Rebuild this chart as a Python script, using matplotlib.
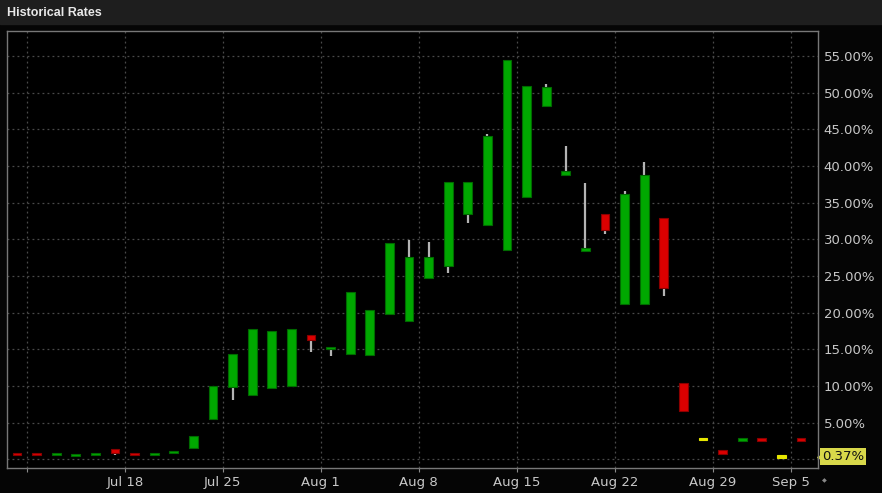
import matplotlib
matplotlib.use('Agg')
import matplotlib.pyplot as plt
import pandas as pd

# daily rate candles (percent)
dates = ['2022-07-08', '2022-07-11', '2022-07-12', '2022-07-13', '2022-07-14', '2022-07-15',
         '2022-07-18', '2022-07-19', '2022-07-20', '2022-07-21', '2022-07-22',
         '2022-07-25', '2022-07-26', '2022-07-27', '2022-07-28', '2022-07-29',
         '2022-08-01', '2022-08-02', '2022-08-03', '2022-08-04', '2022-08-05',
         '2022-08-08', '2022-08-09', '2022-08-10', '2022-08-11', '2022-08-12',
         '2022-08-15', '2022-08-16', '2022-08-17', '2022-08-18', '2022-08-19',
         '2022-08-22', '2022-08-23', '2022-08-24', '2022-08-25', '2022-08-26',
         '2022-08-29', '2022-08-30', '2022-08-31', '2022-09-01', '2022-09-06']
opens = [0.8, 0.8, 0.7, 0.55, 0.7, 1.45,
         0.8, 0.7, 0.95, 1.6, 5.5,
         9.9, 8.8, 9.7, 10.0, 17.0,
         15.05, 14.4, 14.2, 19.8, 18.9,
         24.7, 26.4, 33.4, 32.0, 28.5,
         35.8, 48.2, 38.8, 28.5, 33.4,
         21.2, 21.2, 32.9, 10.4, 2.8,
         1.3, 2.7, 2.85, 0.37, 2.75]
closes = [0.7, 0.7, 0.8, 0.65, 0.8, 0.9,
          0.7, 0.8, 1.1, 3.2, 10.0,
          14.4, 17.8, 17.5, 17.8, 16.3,
          15.35, 22.8, 20.4, 29.5, 27.6,
          27.6, 37.8, 37.8, 44.1, 54.4,
          50.9, 50.8, 39.3, 28.7, 31.3,
          36.2, 38.8, 23.4, 6.6, 2.8,
          0.75, 2.85, 2.7, 0.37, 2.6]
highs = [0.8, 0.8, 0.8, 0.65, 0.8, 1.45,
         0.8, 0.8, 1.1, 3.2, 10.0,
         14.4, 17.8, 17.5, 17.8, 17.0,
         15.35, 22.8, 20.4, 29.5, 29.9,
         29.6, 37.8, 37.8, 44.35, 54.4,
         50.9, 51.2, 42.7, 37.7, 33.4,
         36.6, 40.5, 32.9, 10.4, 2.8,
         1.3, 2.85, 2.85, 0.37, 2.75]
lows = [0.7, 0.7, 0.7, 0.55, 0.7, 0.6,
        0.7, 0.7, 0.7, 1.6, 5.5,
        8.1, 8.8, 9.7, 10.0, 14.6,
        14.1, 14.4, 14.2, 19.8, 18.9,
        24.7, 25.4, 32.2, 32.0, 28.5,
        35.8, 48.2, 38.8, 28.5, 30.7,
        21.2, 21.2, 22.3, 6.6, 2.8,
        0.75, 2.7, 2.7, 0.37, 2.6]
last_rate = 0.37

UP, DOWN, FLAT = '#00a800', '#dc0000', '#e6e600'
EDGE = {UP: '#006a00', DOWN: '#8a0000', FLAT: '#e6e600'}

d = pd.to_datetime(dates)
x = list(range(len(dates)))

fig = plt.figure(figsize=(8.82, 4.93), dpi=100, facecolor='#050505')
fig.patches.append(plt.Rectangle((0, 1 - 24 / 493), 1, 24 / 493, transform=fig.transFigure,
                                 color='#1e1e1e', zorder=0))
fig.text(7 / 882, 1 - 13 / 493, 'Historical Rates', color='#e8e8e8', fontsize=9,
         fontweight='bold', family='Liberation Sans', va='center', ha='left')

ax = fig.add_axes([7 / 882, 25 / 493, 811 / 882, 437 / 493])
ax.set_facecolor('#000000')

for i in x:
    o, c = opens[i], closes[i]
    col = UP if c > o else DOWN if c < o else FLAT
    ax.vlines(i, lows[i], highs[i], color='#b4b4b4', linewidth=1.6, zorder=2)
    h = max(abs(c - o), 0.38)
    ax.bar(i, h, bottom=min(o, c) - (h - abs(c - o)) / 2, width=0.45, color=col,
           edgecolor=EDGE[col], linewidth=0.8, zorder=3)

# week boundaries
ticks, labels = [], []
for i in range(1, len(d)):
    if d[i].isocalendar()[1] != d[i - 1].isocalendar()[1]:
        monday = d[i] - pd.Timedelta(days=d[i].weekday())
        ticks.append(i - 0.5)
        labels.append(f'{monday:%b} {monday.day}')
labels[0] = ''

ax.set_xlim(-0.51, 40.87)
ax.set_ylim(-1.16, 58.4)
ax.set_xticks(ticks)
ax.set_xticklabels(labels)
yt = list(range(5, 60, 5))
ax.set_yticks(yt)
ax.set_yticklabels([f'{v:.2f}%' for v in yt])
ax.yaxis.tick_right()
ax.tick_params(axis='y', length=0, pad=4, labelcolor='#c8c8c8', labelsize=9.5)
ax.tick_params(axis='x', length=3, color='#8a8a8a', pad=3, labelcolor='#c8c8c8', labelsize=9.5)
ax.grid(True, color='#4a4a4a', linestyle=(0, (1.5, 2.5)), linewidth=0.9)
ax.axhline(0, color='#4a4a4a', linestyle=(0, (1.5, 2.5)), linewidth=0.9, zorder=1)
ax.set_axisbelow(True)
for s in ax.spines.values():
    s.set_color('#777777')
    s.set_linewidth(1)

# last value tag
ax.text(1.005, last_rate, f'{last_rate:.2f}%', transform=ax.get_yaxis_transform(),
        fontsize=9.5, color='#111111', va='center', ha='left',
        bbox=dict(boxstyle='square,pad=0.15', fc='#d8d84a', ec='none'))
ax.plot([1.002], [last_rate], marker='<', markersize=5, color='#d8d84a',
        transform=ax.get_yaxis_transform(), clip_on=False)
fig.text(824 / 882, 1 - 481 / 493, '\u25c6', color='#888888', fontsize=4.5, ha='center', va='center')

fig.savefig('out.png', dpi=100, facecolor=fig.get_facecolor())
